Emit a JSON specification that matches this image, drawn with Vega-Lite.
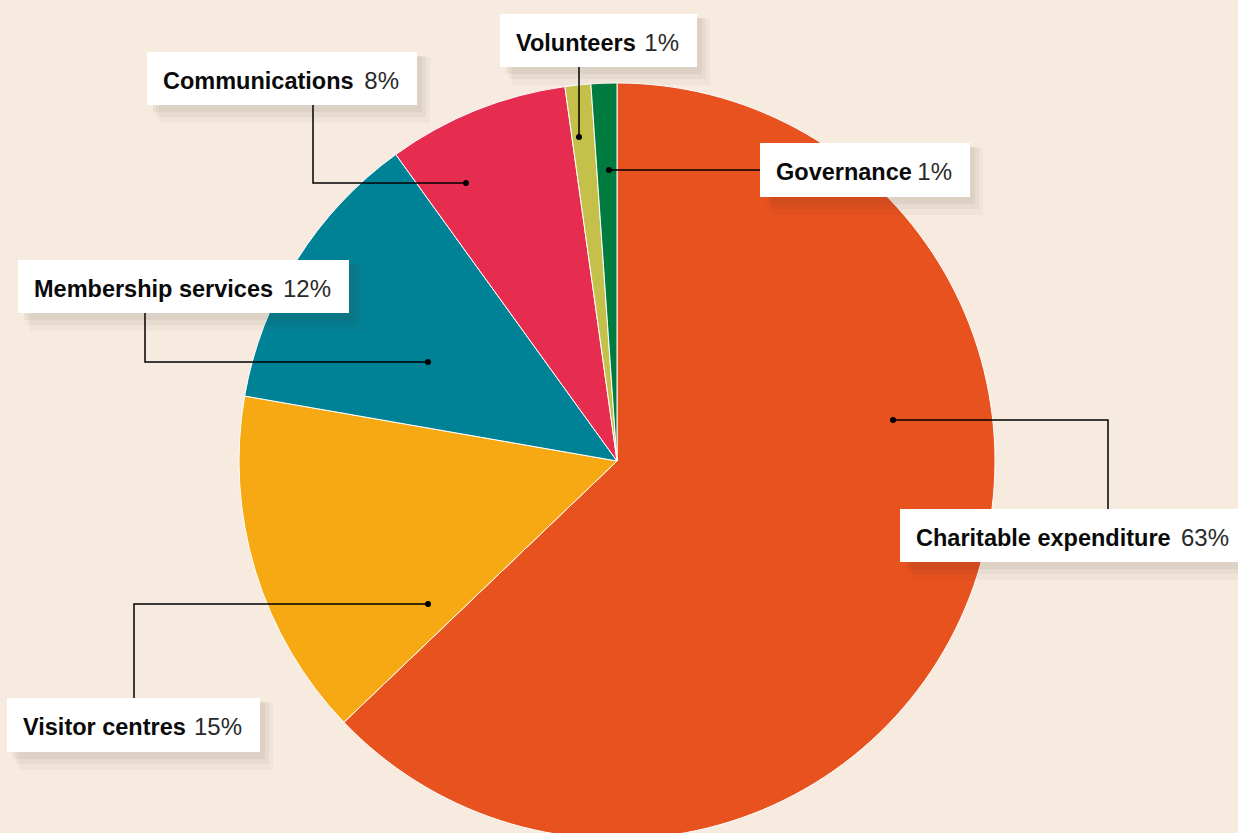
{
  "$schema": "https://vega.github.io/schema/vega-lite/v6.json",
  "width": 1238,
  "height": 833,
  "autosize": {"type": "none"},
  "padding": 0,
  "background": "#F7EBDF",
  "config": {"view": {"stroke": null}, "font": "Liberation Sans"},
  "datasets": {
    "slices": [
      {"category": "Charitable expenditure", "share": 62.85, "rank": 1},
      {"category": "Visitor centres", "share": 14.9, "rank": 2},
      {"category": "Membership services", "share": 12.3, "rank": 3},
      {"category": "Communications", "share": 7.75, "rank": 4},
      {"category": "Volunteers", "share": 1.1, "rank": 5},
      {"category": "Governance", "share": 1.1, "rank": 6}
    ],
    "labels": [
      {"category": "Charitable expenditure", "pct": "63%", "x1": 283, "x2": 630, "y1": -48, "y2": -101},
      {"category": "Visitor centres", "pct": "15%", "x1": -610, "x2": -357, "y1": -237, "y2": -291},
      {"category": "Membership services", "pct": "12%", "x1": -599, "x2": -268, "y1": 201, "y2": 148},
      {"category": "Communications", "pct": "8%", "x1": -470, "x2": -200, "y1": 409, "y2": 356},
      {"category": "Volunteers", "pct": "1%", "x1": -117, "x2": 80, "y1": 447, "y2": 394},
      {"category": "Governance", "pct": "1%", "x1": 143, "x2": 353, "y1": 318, "y2": 264}
    ],
    "leaders": [
      {"category": "Charitable expenditure", "seq": 0, "x": 276, "y": 41},
      {"category": "Charitable expenditure", "seq": 1, "x": 491, "y": 41},
      {"category": "Charitable expenditure", "seq": 2, "x": 491, "y": -48},
      {"category": "Visitor centres", "seq": 0, "x": -189, "y": -143},
      {"category": "Visitor centres", "seq": 1, "x": -483, "y": -143},
      {"category": "Visitor centres", "seq": 2, "x": -483, "y": -237},
      {"category": "Membership services", "seq": 0, "x": -189, "y": 99},
      {"category": "Membership services", "seq": 1, "x": -472, "y": 99},
      {"category": "Membership services", "seq": 2, "x": -472, "y": 148},
      {"category": "Communications", "seq": 0, "x": -151, "y": 278},
      {"category": "Communications", "seq": 1, "x": -304, "y": 278},
      {"category": "Communications", "seq": 2, "x": -304, "y": 356},
      {"category": "Volunteers", "seq": 0, "x": -38, "y": 324},
      {"category": "Volunteers", "seq": 1, "x": -38, "y": 394},
      {"category": "Governance", "seq": 0, "x": -8, "y": 291},
      {"category": "Governance", "seq": 1, "x": 143, "y": 291}
    ]
  },
  "layer": [
    {
      "data": {"name": "slices"},
      "mark": {"type": "arc", "outerRadius": 378, "stroke": "#ffffff", "strokeWidth": 1},
      "encoding": {
        "theta": {"field": "share", "type": "quantitative", "stack": true},
        "order": {"field": "rank", "type": "quantitative"},
        "color": {
          "field": "category",
          "type": "nominal",
          "scale": {
            "domain": ["Charitable expenditure", "Visitor centres", "Membership services", "Communications", "Volunteers", "Governance"],
            "range": ["#E8521E", "#F6A913", "#008296", "#E62D4F", "#C4C04A", "#007B40"]
          },
          "legend": null
        },
        "x": {"datum": 0, "type": "quantitative", "scale": {"domain": [-617, 621], "nice": false, "zero": false}, "axis": null},
        "y": {"datum": 0, "type": "quantitative", "scale": {"domain": [-372, 461], "nice": false, "zero": false}, "axis": null}
      }
    },
    {
      "data": {"name": "labels"},
      "mark": {"type": "rect", "fill": "#4a3a2a", "opacity": 0.04, "xOffset": 12, "x2Offset": 13, "yOffset": 5, "y2Offset": 18},
      "encoding": {
        "x": {"field": "x1", "type": "quantitative"},
        "x2": {"field": "x2"},
        "y": {"field": "y1", "type": "quantitative"},
        "y2": {"field": "y2"}
      }
    },
    {
      "data": {"name": "labels"},
      "mark": {"type": "rect", "fill": "#4a3a2a", "opacity": 0.05, "xOffset": 9, "x2Offset": 9, "yOffset": 4, "y2Offset": 12},
      "encoding": {
        "x": {"field": "x1", "type": "quantitative"},
        "x2": {"field": "x2"},
        "y": {"field": "y1", "type": "quantitative"},
        "y2": {"field": "y2"}
      }
    },
    {
      "data": {"name": "labels"},
      "mark": {"type": "rect", "fill": "#4a3a2a", "opacity": 0.06, "xOffset": 6, "x2Offset": 5, "yOffset": 4, "y2Offset": 7},
      "encoding": {
        "x": {"field": "x1", "type": "quantitative"},
        "x2": {"field": "x2"},
        "y": {"field": "y1", "type": "quantitative"},
        "y2": {"field": "y2"}
      }
    },
    {
      "data": {"name": "leaders"},
      "mark": {"type": "line", "color": "#000000", "strokeWidth": 1.5},
      "encoding": {
        "x": {"field": "x", "type": "quantitative"},
        "y": {"field": "y", "type": "quantitative"},
        "detail": {"field": "category"},
        "order": {"field": "seq", "type": "quantitative"}
      }
    },
    {
      "data": {"name": "leaders"},
      "transform": [{"filter": "datum.seq == 0"}],
      "mark": {"type": "circle", "color": "#000000", "opacity": 1, "size": 36},
      "encoding": {
        "x": {"field": "x", "type": "quantitative"},
        "y": {"field": "y", "type": "quantitative"}
      }
    },
    {
      "data": {"name": "labels"},
      "mark": {"type": "rect", "fill": "#ffffff"},
      "encoding": {
        "x": {"field": "x1", "type": "quantitative"},
        "x2": {"field": "x2"},
        "y": {"field": "y1", "type": "quantitative"},
        "y2": {"field": "y2"}
      }
    },
    {
      "data": {"name": "labels"},
      "mark": {"type": "text", "align": "left", "baseline": "middle", "dx": 16, "dy": 30, "fontSize": 23.5, "fontWeight": "bold", "color": "#0a0a0a"},
      "encoding": {
        "x": {"field": "x1", "type": "quantitative"},
        "y": {"field": "y1", "type": "quantitative"},
        "text": {"field": "category"}
      }
    },
    {
      "data": {"name": "labels"},
      "mark": {"type": "text", "align": "right", "baseline": "middle", "dx": -18, "dy": 30, "fontSize": 24, "fontWeight": "normal", "color": "#2a2a2a"},
      "encoding": {
        "x": {"field": "x2", "type": "quantitative"},
        "y": {"field": "y1", "type": "quantitative"},
        "text": {"field": "pct"}
      }
    }
  ]
}
